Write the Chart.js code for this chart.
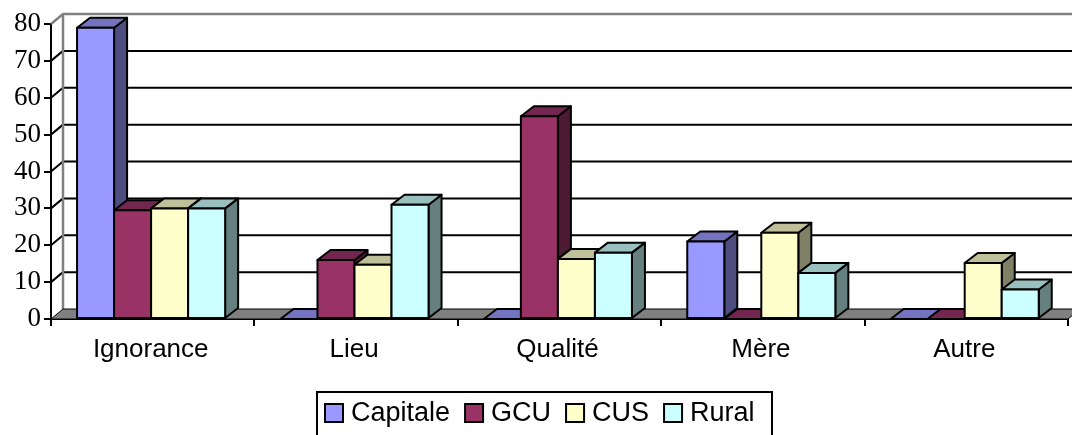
<!DOCTYPE html>
<html>
<head>
<meta charset="utf-8">
<title>Chart</title>
<script src="https://cdn.jsdelivr.net/npm/chart.js@4/dist/chart.umd.min.js"></script>
<style>
  html, body { margin: 0; padding: 0; background: #fff; overflow: hidden; }
  #wrap { width: 1072px; height: 435px; }
</style>
</head>
<body>
<div id="wrap"><canvas id="chart" width="1072" height="435"></canvas></div>
<script>
const categories = ["Ignorance", "Lieu", "Qualité", "Mère", "Autre"];
const capitale = [79, 0, 0, 21, 0];
const gcu = [29.5, 16, 55, 0, 0];
const cus = [30, 14.7, 16.3, 23.4, 15.2];
const rural = [30, 31, 18, 12.5, 8];
const seriesNames = ["Capitale", "GCU", "CUS", "Rural"];
const seriesColors = ["#9999FF", "#993366", "#FFFFCC", "#CCFFFF"];
const topColors = ["#7373BF", "#732650", "#BFBF99", "#99BFBF"];
const sideColors = ["#4D4D80", "#4D1933", "#808066", "#668080"];

// depth of the fake 3d box
const DX = 12;
const DY = 10;
const BAR_DX = 13;

function poly(ctx, pts, fill, stroke, width) {
  ctx.beginPath();
  pts.forEach((p, i) => (i ? ctx.lineTo(p[0], p[1]) : ctx.moveTo(p[0], p[1])));
  ctx.closePath();
  if (fill) {
    ctx.fillStyle = fill;
    ctx.fill();
  }
  if (stroke) {
    ctx.strokeStyle = stroke;
    ctx.lineWidth = width;
    ctx.stroke();
  }
}

const box3d = {
  id: "box3d",
  afterDatasetsUpdate(chart) {
    // groups sit slightly left of the category centre in the original
    chart.getSortedVisibleDatasetMetas().forEach((meta) => {
      meta.data.forEach((bar) => {
        bar.x -= 1.6;
      });
    });
  },
  beforeDatasetsDraw(chart) {
    const { ctx, chartArea, scales } = chart;
    const { left, right } = chartArea;
    const y = scales.y;
    const floorY = y.getPixelForValue(0);
    const topY = y.getPixelForValue(80);
    ctx.save();
    ctx.lineJoin = "round";

    // back wall grid lines
    y.ticks.forEach((t) => {
      const py = y.getPixelForValue(t.value);
      if (t.value === 0 || t.value === 80) return;
      ctx.strokeStyle = "#000";
      ctx.lineWidth = 2;
      ctx.beginPath();
      ctx.moveTo(left, py);
      ctx.lineTo(left + DX, py - DY);
      ctx.lineTo(right + DX, py - DY);
      ctx.stroke();
    });

    // left wall and top edge
    ctx.strokeStyle = "#808080";
    ctx.lineWidth = 2.5;
    ctx.beginPath();
    ctx.moveTo(left, topY);
    ctx.lineTo(left + DX, topY - DY);
    ctx.lineTo(right + DX, topY - DY);
    ctx.moveTo(left + DX, topY - DY);
    ctx.lineTo(left + DX, floorY - DY);
    ctx.stroke();

    // floor
    poly(ctx, [[left, floorY], [left + DX, floorY - DY], [right + DX, floorY - DY], [right, floorY]], "#808080", "#000", 1);

    // bars left to right so each front covers the previous side
    const metas = chart.getSortedVisibleDatasetMetas().slice().sort((a, b) => a.index - b.index);
    metas.forEach((meta) => {
      meta.data.forEach((bar) => {
        const p = bar.getProps(["x", "y", "base", "width"], true);
        const l = p.x - p.width / 2;
        const r = p.x + p.width / 2;
        const i = meta.index;
        if (p.base - p.y > 0.5) {
          poly(ctx, [[r, p.y], [r + BAR_DX, p.y - DY], [r + BAR_DX, p.base - DY], [r, p.base]], sideColors[i], "#000", 2);
        }
        poly(ctx, [[l, p.y], [l + BAR_DX, p.y - DY], [r + BAR_DX, p.y - DY], [r, p.y]], topColors[i], "#000", 2);
        bar.draw(ctx);
        if (p.base - p.y > 0.5) {
          ctx.strokeStyle = "#000";
          ctx.lineWidth = 2;
          ctx.strokeRect(l, p.y, p.width, p.base - p.y);
        }
      });
    });
    ctx.restore();
    return false;
  },
  afterDraw(chart) {
    // legend box runs off the bottom of the picture
    const { ctx } = chart;
    ctx.save();
    ctx.strokeStyle = "#000";
    ctx.lineWidth = 2;
    ctx.strokeRect(317, 392, 455, 60);
    ctx.font = '27px "Liberation Sans"';
    ctx.textBaseline = "middle";
    let x = 325;
    seriesNames.forEach((name, i) => {
      ctx.fillStyle = seriesColors[i];
      ctx.fillRect(x, 404, 18, 18);
      ctx.strokeRect(x, 404, 18, 18);
      ctx.fillStyle = "#000";
      ctx.fillText(name, x + 26, 414);
      x += 26 + ctx.measureText(name).width + 15;
    });
    ctx.restore();
  },
};

new Chart(document.getElementById("chart"), {
  type: "bar",
  data: {
    labels: categories,
    datasets: [capitale, gcu, cus, rural].map((values, i) => ({
      label: seriesNames[i],
      data: values,
      backgroundColor: seriesColors[i],
      borderWidth: 0,
    })),
  },
  options: {
    responsive: false,
    animation: false,
    categoryPercentage: 0.728,
    barPercentage: 1,
    layout: { padding: { left: 0, top: 24, right: 4, bottom: 0 } },
    plugins: { legend: { display: false }, tooltip: { enabled: false } },
    scales: {
      x: {
        afterFit(scale) {
          scale.height = 116;
        },
        border: { color: "#000", width: 2 },
        grid: { drawOnChartArea: false, drawTicks: true, tickLength: 7, color: "#000", lineWidth: 2 },
        ticks: { color: "#000", padding: 8, maxRotation: 0, labelOffset: -2, font: { family: "Liberation Sans", size: 26 } },
      },
      y: {
        min: 0,
        max: 80,
        afterFit(scale) {
          scale.width = 51;
        },
        border: { color: "#000", width: 2 },
        grid: { drawOnChartArea: false, drawTicks: true, tickLength: 7, color: "#000", lineWidth: 2 },
        ticks: { color: "#000", stepSize: 10, padding: 3, font: { family: "Liberation Serif", size: 27 } },
      },
    },
  },
  plugins: [box3d],
});
</script>
</body>
</html>
